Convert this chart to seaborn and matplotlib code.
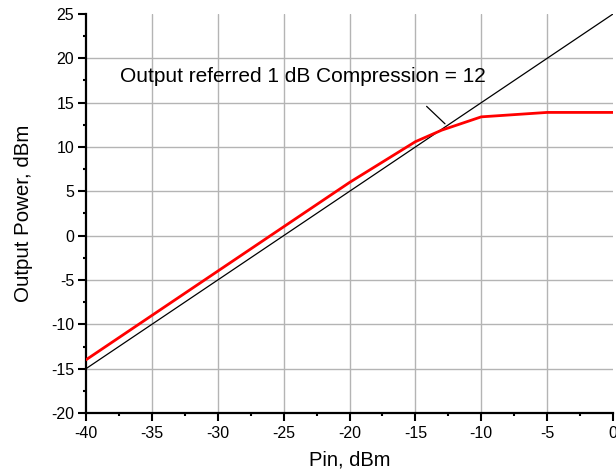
import matplotlib
matplotlib.use("Agg")
import matplotlib.pyplot as plt
import seaborn as sns
import numpy as np
import pandas as pd

# Data
pin_red = [-40, -35, -30, -25, -20, -15, -13, -10, -5, 0]
pout_red = [-14, -9, -4, 1, 6, 10.6, 11.9, 13.4, 13.9, 13.9]
pin_ref = [-40, 0]
pout_ref = [-15, 25]
annot_text = "Output referred 1 dB Compression = 12"
annot_xy = (-12.6, 12.4)
annot_from = (-14.3, 14.8)
x_ticks = [-40, -35, -30, -25, -20, -15, -10, -5, 0]
y_ticks = [-20, -15, -10, -5, 0, 5, 10, 15, 20, 25]

sns.set_theme(style="white")
plt.rcParams['font.family'] = ['Liberation Sans', 'DejaVu Sans']
plt.rcParams['axes.unicode_minus'] = False

fig = plt.figure(figsize=(6.16, 4.73), dpi=100)
ax = fig.add_axes([86/616, 1-413/473, (613-86)/616, (413-14)/473])

df_red = pd.DataFrame({"pin": pin_red, "pout": pout_red})
df_ref = pd.DataFrame({"pin": pin_ref, "pout": pout_ref})

sns.lineplot(data=df_ref, x="pin", y="pout", ax=ax, color="black", lw=0.9, zorder=3, sort=False)
sns.lineplot(data=df_red, x="pin", y="pout", ax=ax, color="#ff0000", lw=2.0, zorder=4, sort=False)

ax.set_xlim(-40, 0)
ax.set_ylim(-20, 25)
ax.set_xticks(x_ticks)
ax.set_yticks(y_ticks)
ax.set_xticks(np.arange(-37.5, 0, 5), minor=True)
ax.set_yticks(np.arange(-17.5, 25, 5), minor=True)

ax.grid(True, which="major", color="#b4b4b4", lw=1.0, zorder=0)
# hide gridlines at edges
for gl, t in zip(ax.xaxis.get_gridlines(), x_ticks):
    if t in (-40, 0):
        gl.set_visible(False)
for gl, t in zip(ax.yaxis.get_gridlines(), y_ticks):
    if t in (-20, 25):
        gl.set_visible(False)

for s in ["top", "right"]:
    ax.spines[s].set_visible(False)
for s in ["left", "bottom"]:
    ax.spines[s].set_visible(True)
    ax.spines[s].set_color("black")
    ax.spines[s].set_linewidth(1.6)

ax.tick_params(which="major", direction="out", length=5.5, width=1.5, color="black",
               bottom=True, left=True)
ax.tick_params(which="minor", direction="out", length=2.5, width=1.5, color="black",
               bottom=True, left=True)
ax.tick_params(axis="x", labelsize=11.5, pad=4, labelcolor="black")
ax.tick_params(axis="y", labelsize=11.5, pad=3, labelcolor="black")

ax.set_xlabel("Pin, dBm", fontsize=14.5, color="black", labelpad=7)
ax.set_ylabel("Output Power, dBm", fontsize=14.8, color="black", labelpad=13)

ax.annotate("", xy=annot_xy, xytext=annot_from,
            arrowprops=dict(arrowstyle="-", color="black", lw=0.9), zorder=5)
ax.text(-37.4, 17.3, annot_text, fontsize=15, color="black", ha="left", va="baseline")

fig.savefig("out.png", dpi=100)
